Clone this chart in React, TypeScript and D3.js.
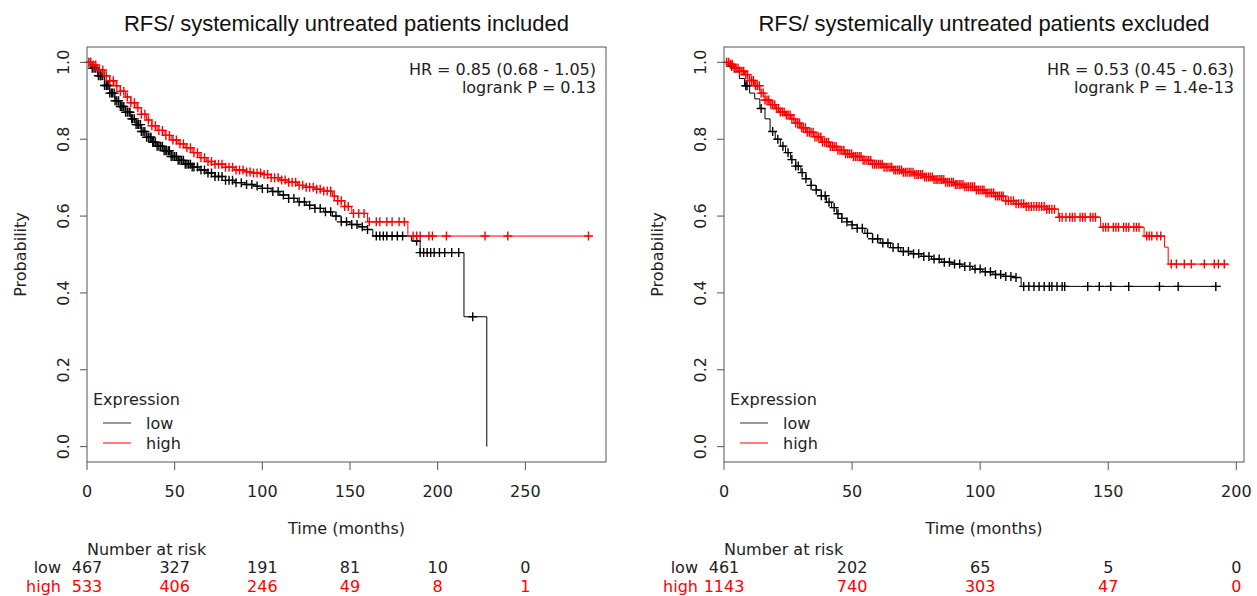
import * as d3 from 'd3'
import React from 'react'

// --- left panel: systemically untreated patients included ---
const incLowTime = [0, 3, 6, 10, 13, 16, 19, 22, 25, 28, 31, 34, 37, 40, 44, 48, 52, 56, 60, 64, 68, 73, 79, 84, 90, 95, 100, 105, 110, 115, 120, 125, 130, 135, 140, 145, 150, 155, 160, 163, 185, 190, 215, 228]
const incLowSurv = [1.0, 0.985, 0.965, 0.94, 0.92, 0.9, 0.885, 0.87, 0.853, 0.838, 0.82, 0.805, 0.792, 0.782, 0.77, 0.755, 0.745, 0.735, 0.728, 0.72, 0.712, 0.703, 0.693, 0.687, 0.682, 0.678, 0.672, 0.664, 0.655, 0.646, 0.637, 0.628, 0.62, 0.611, 0.6, 0.585, 0.578, 0.572, 0.565, 0.548, 0.535, 0.505, 0.338, 0.0]
const incLowCensor = [2, 3, 4, 5, 6.5, 7.5, 8, 9, 10, 11, 11.5, 12.5, 13, 14, 14.5, 15.5, 16, 17, 18, 19, 19.5, 20.5, 21, 22, 23, 24, 24.5, 25.5, 26, 27, 28, 29, 29.5, 30.5, 31, 32, 33, 34, 35, 36, 36.5, 37.5, 38, 39, 40, 41, 42, 43, 44, 45, 45.5, 46.5, 47, 48, 49, 50, 51, 52, 53, 54, 55, 56, 57, 58, 59, 60, 61, 63, 65, 67, 69, 71, 73, 75, 77, 79, 81, 83, 85, 88, 91, 94, 97, 100, 103, 106, 109, 112, 115, 118, 121, 124, 127, 130, 133, 136, 139, 142, 145, 148, 151, 154, 157, 160, 165, 167, 169, 171, 174, 177, 180, 188, 190, 192, 194, 196, 198, 201, 204, 208, 212, 220]

const incHighTime = [0, 3, 6, 10, 13, 16, 19, 22, 25, 28, 31, 34, 37, 40, 44, 48, 52, 56, 60, 64, 68, 73, 79, 84, 90, 95, 100, 105, 110, 115, 120, 125, 130, 135, 140, 143, 147, 151, 160, 183, 287]
const incHighSurv = [1.0, 0.993, 0.98, 0.965, 0.952, 0.939, 0.925, 0.91, 0.895, 0.882, 0.865, 0.85, 0.835, 0.823, 0.81, 0.798, 0.788, 0.778, 0.765, 0.752, 0.742, 0.735, 0.727, 0.72, 0.715, 0.712, 0.708, 0.7, 0.694, 0.688, 0.68, 0.675, 0.67, 0.665, 0.652, 0.64, 0.625, 0.607, 0.585, 0.548, 0.548]
const incHighCensor = [1, 2, 3.5, 5, 7, 9, 11, 13, 15, 17, 19, 21, 23, 25, 27, 29, 31, 33, 35, 37, 39, 41, 43, 45, 47, 49, 51, 53, 55, 57, 59, 61, 63, 65, 67, 69, 71, 73, 75, 77, 79, 81, 83, 85, 87, 89, 91, 93, 95, 97, 99, 101, 103, 105, 107, 109, 111, 113, 115, 117, 119, 121, 123, 125, 127, 129, 131, 133, 135, 137, 139, 141, 143, 145, 147, 149, 152, 155, 158, 161, 165, 167, 171, 174, 178, 181, 186, 188, 190, 195, 197, 205, 227, 240, 286]

const incTicks = [0, 50, 100, 150, 200, 250]
const incRiskLow = [467, 327, 191, 81, 10, 0]
const incRiskHigh = [533, 406, 246, 49, 8, 1]

// --- right panel: systemically untreated patients excluded ---
const excLowTime = [0, 2, 4, 6, 8, 10, 12, 14, 16, 18, 20, 22, 24, 26, 28, 30, 32, 34, 36, 38, 40, 42, 44, 46, 48, 50, 52, 55, 58, 61, 65, 69, 73, 77, 81, 85, 89, 93, 97, 101, 105, 109, 113, 116, 194]
const excLowSurv = [1.0, 0.99, 0.975, 0.958, 0.939, 0.92, 0.905, 0.88, 0.853, 0.82, 0.8, 0.782, 0.765, 0.747, 0.73, 0.713, 0.697, 0.68, 0.668, 0.653, 0.636, 0.622, 0.606, 0.594, 0.585, 0.577, 0.568, 0.555, 0.541, 0.53, 0.518, 0.508, 0.502, 0.495, 0.488, 0.48, 0.475, 0.469, 0.462, 0.455, 0.448, 0.443, 0.44, 0.417, 0.417]
const excLowCensor = [3, 8.5, 9, 14.5, 19, 21, 23, 25, 26.5, 28, 29, 30.5, 32, 34, 36, 38, 39.5, 41, 43, 44.5, 46, 48, 50, 52, 54, 56, 58, 60, 62, 64, 66, 68, 70, 72, 74, 76, 78, 80, 82, 84, 86, 88, 90, 92, 94, 96, 98, 100, 102, 104, 106, 108, 110, 112, 114, 117, 119, 121, 123, 125, 127, 128, 130, 132, 133, 142, 146.5, 151, 158, 170, 177.3, 192]

const excHighTime = [0, 2, 4, 6, 8, 10, 12, 14, 16, 18, 20, 22, 24, 26, 28, 30, 32, 35, 38, 41, 44, 47, 50, 54, 58, 62, 66, 70, 74, 78, 82, 86, 90, 94, 98, 102, 106, 110, 114, 118, 126, 130.5, 147, 164, 172, 173.4, 197]
const excHighSurv = [1.0, 0.995, 0.985, 0.977, 0.968, 0.953, 0.939, 0.92, 0.902, 0.89, 0.88, 0.871, 0.863, 0.853, 0.842, 0.83, 0.818, 0.806, 0.792, 0.781, 0.771, 0.762, 0.755, 0.745, 0.735, 0.727, 0.72, 0.714, 0.708, 0.702, 0.695, 0.688, 0.682, 0.676, 0.668, 0.66, 0.652, 0.64, 0.632, 0.625, 0.618, 0.597, 0.571, 0.548, 0.519, 0.475, 0.475]
const excHighCensor = [1, 1.8, 2.5, 3.2, 4, 4.7, 5.5, 6.2, 7, 7.7, 8.5, 9.2, 10, 10.8, 11.5, 12.3, 13, 13.8, 14.5, 15.3, 16, 16.8, 17.5, 18.3, 19, 19.8, 20.5, 21.3, 22, 22.8, 23.5, 24.3, 25, 25.8, 26.5, 27.3, 28, 28.8, 29.5, 30.3, 31, 31.8, 32.5, 33.3, 34, 34.8, 35.5, 36.3, 37, 37.8, 38.5, 39.3, 40, 40.8, 41.5, 42.3, 43, 43.8, 44.5, 45.3, 46, 46.8, 47.5, 48.3, 49, 49.8, 50.5, 51.3, 52, 52.8, 53.5, 54.3, 55, 55.8, 56.5, 57.3, 58, 58.8, 59.5, 60.3, 61, 61.8, 62.5, 63.3, 64, 64.8, 65.5, 66.3, 67, 67.8, 68.5, 69.3, 70, 70.8, 71.5, 72.3, 73, 73.8, 74.5, 75.3, 76, 76.8, 77.5, 78.3, 79, 79.8, 80.5, 81.3, 82, 82.8, 83.5, 84.3, 85, 85.8, 86.5, 87.3, 88, 88.8, 89.5, 90.3, 91, 91.8, 92.5, 93.3, 94, 94.8, 95.5, 96.3, 97, 97.8, 98.5, 99.3, 100, 100.8, 101.5, 102.3, 103, 103.8, 104.5, 105.3, 106, 106.8, 107.5, 108.3, 109, 110, 111, 112, 113, 114, 115, 116, 117, 118, 119, 120, 121, 122, 123, 124, 125, 126, 127, 128, 129, 131, 132, 133.5, 135, 136, 137, 139, 140, 141, 143, 144, 145, 148, 149, 150, 152, 153, 154, 156, 157, 158, 160, 161, 162, 165, 166, 167, 169, 170.5, 174.6, 176.6, 179.7, 182.4, 187.5, 191.4, 193, 195.3]

const excTicks = [0, 50, 100, 150, 200]
const excRiskLow = [461, 202, 65, 5, 0]
const excRiskHigh = [1143, 740, 303, 47, 0]

const yTicks = [0, 0.2, 0.4, 0.6, 0.8, 1.0]

const RED = '#ff0000'
const TXT = '#222'
const FONT = 'DejaVu Sans'

type Curve = { time: number[]; surv: number[]; censor: number[]; color: string }

const Panel = ({ title, hr, p, left, right, xMax, ticks, riskLow, riskHigh, curves }: {
  title: string
  hr: string
  p: string
  left: number
  right: number
  xMax: number
  ticks: number[]
  riskLow: number[]
  riskHigh: number[]
  curves: Curve[]
}) => {
  const top = 47
  const bottom = 462
  const x = d3.scaleLinear().domain([0, xMax]).range([left, right])
  const y = d3.scaleLinear().domain([-0.04, 1.04]).range([bottom, top])

  const line = d3
    .line<[number, number]>()
    .x((d) => x(d[0]))
    .y((d) => y(d[1]))
    .curve(d3.curveStepAfter)

  const mid = (left + right) / 2

  return (
    <g>
      <text x={mid} y={31} textAnchor='middle' fontFamily='Liberation Sans' fontSize={22} fill='#111'>{title}</text>

      {/* curves with censor marks */}
      {curves.map((c, i) => {
        const pts = c.time.map((t, j) => [t, c.surv[j]] as [number, number])
        return (
          <g key={i} stroke={c.color} fill='none'>
            <path d={line(pts) || ''} strokeWidth={1} />
            <g strokeWidth={1.4}>
              {c.censor.map((t, j) => {
                const k = Math.max(0, d3.bisectRight(c.time, t) - 1)
                const cx = x(t)
                const cy = y(c.surv[k])
                return <path key={j} d={`M${cx - 4.5},${cy}H${cx + 4.5}M${cx},${cy - 4.5}V${cy + 4.5}`} />
              })}
            </g>
          </g>
        )
      })}

      {/* box */}
      <rect x={left} y={top} width={right - left} height={bottom - top} fill='none' stroke='#555' strokeWidth={1} />

      {/* x axis */}
      {ticks.map((t) => (
        <g key={t}>
          <line x1={x(t)} x2={x(t)} y1={bottom} y2={bottom + 8} stroke='#555' />
          <text x={x(t)} y={497} textAnchor='middle' fontFamily={FONT} fontSize={16} fill={TXT}>{t}</text>
        </g>
      ))}
      <text x={mid} y={534} textAnchor='middle' fontFamily={FONT} fontSize={16} fill={TXT}>Time (months)</text>

      {/* y axis */}
      {yTicks.map((v) => (
        <g key={v}>
          <line x1={left - 7} x2={left} y1={y(v)} y2={y(v)} stroke='#555' />
          <text transform={`translate(${left - 18},${y(v)}) rotate(-90)`} textAnchor='middle' fontFamily={FONT} fontSize={16} fill={TXT}>{v.toFixed(1)}</text>
        </g>
      ))}
      <text transform={`translate(${left - 61},${(top + bottom) / 2}) rotate(-90)`} textAnchor='middle' fontFamily={FONT} fontSize={16} fill={TXT}>Probability</text>

      {/* stats */}
      <text x={right - 10} y={75} textAnchor='end' fontFamily={FONT} fontSize={16} fill={TXT}>{hr}</text>
      <text x={right - 10} y={93} textAnchor='end' fontFamily={FONT} fontSize={16} fill={TXT}>{p}</text>

      {/* legend */}
      <text x={left + 6} y={405} fontFamily={FONT} fontSize={16} fill={TXT}>Expression</text>
      <line x1={left + 16} x2={left + 44} y1={423} y2={423} stroke='#333' />
      <text x={left + 59} y={429} fontFamily={FONT} fontSize={16} fill={TXT}>low</text>
      <line x1={left + 16} x2={left + 44} y1={443} y2={443} stroke={RED} />
      <text x={left + 59} y={449} fontFamily={FONT} fontSize={16} fill={TXT}>high</text>

      {/* number at risk */}
      <text x={left} y={555} fontFamily={FONT} fontSize={16} fill={TXT}>Number at risk</text>
      <text x={left - 26} y={573} textAnchor='end' fontFamily={FONT} fontSize={16} fill={TXT}>low</text>
      <text x={left - 26} y={592} textAnchor='end' fontFamily={FONT} fontSize={16} fill={RED}>high</text>
      {ticks.map((t, i) => (
        <g key={t}>
          <text x={x(t)} y={573} textAnchor='middle' fontFamily={FONT} fontSize={16} fill={TXT}>{riskLow[i]}</text>
          <text x={x(t)} y={592} textAnchor='middle' fontFamily={FONT} fontSize={16} fill={RED}>{riskHigh[i]}</text>
        </g>
      ))}
    </g>
  )
}

const App = () => {
  return (
    <svg width={1257} height={596} style={{ position: 'absolute', left: 0, top: 0, background: '#fff' }}>
      <Panel
        title='RFS/ systemically untreated patients included'
        hr='HR = 0.85 (0.68 - 1.05)'
        p='logrank P = 0.13'
        left={87}
        right={606}
        xMax={296}
        ticks={incTicks}
        riskLow={incRiskLow}
        riskHigh={incRiskHigh}
        curves={[
          { time: incLowTime, surv: incLowSurv, censor: incLowCensor, color: '#000' },
          { time: incHighTime, surv: incHighSurv, censor: incHighCensor, color: RED }
        ]}
      />
      <Panel
        title='RFS/ systemically untreated patients excluded'
        hr='HR = 0.53 (0.45 - 0.63)'
        p='logrank P = 1.4e-13'
        left={724}
        right={1244}
        xMax={203}
        ticks={excTicks}
        riskLow={excRiskLow}
        riskHigh={excRiskHigh}
        curves={[
          { time: excLowTime, surv: excLowSurv, censor: excLowCensor, color: '#000' },
          { time: excHighTime, surv: excHighSurv, censor: excHighCensor, color: RED }
        ]}
      />
    </svg>
  )
}

export default App
